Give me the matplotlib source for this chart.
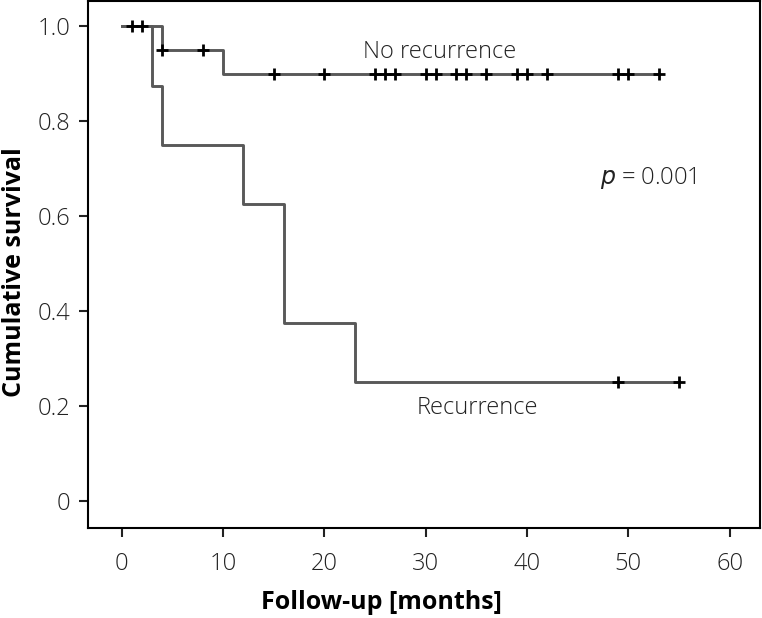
import matplotlib
matplotlib.use("Agg")
import matplotlib.pyplot as plt

plt.rcParams["font.family"] = ["Open Sans", "DejaVu Sans"]

# Kaplan-Meier steps
norec_t = [0, 4, 10, 53]
norec_s = [1.0, 0.95, 0.90, 0.90]
norec_cens_t = [1, 2, 4, 8, 15, 20, 25, 26, 27, 30, 31, 33, 34, 36, 39, 40, 42, 49, 50, 53]
norec_cens_s = [1.0, 1.0, 0.95, 0.95] + [0.90] * 16

rec_t = [0, 3, 4, 12, 16, 23, 55]
rec_s = [1.0, 0.875, 0.75, 0.625, 0.375, 0.25, 0.25]
rec_cens_t = [49, 55]
rec_cens_s = [0.25, 0.25]

xticks = [0, 10, 20, 30, 40, 50, 60]
yticks = [0, 0.2, 0.4, 0.6, 0.8, 1.0]
ytick_labels = ["0", "0.2", "0.4", "0.6", "0.8", "1.0"]

fig = plt.figure(figsize=(7.62, 6.18), dpi=100)
ax = fig.add_axes([0.1155, 0.1456, 0.882, 0.853])

line_col = "#595959"
txt_col = "#222222"
ax.step(rec_t, rec_s, where="post", color=line_col, lw=2.1)
ax.step(norec_t, norec_s, where="post", color=line_col, lw=2.1)
ax.plot(norec_cens_t, norec_cens_s, "+", color="black", ms=9, mew=2)
ax.plot(rec_cens_t, rec_cens_s, "+", color="black", ms=9, mew=2)

ax.text(23.8, 0.933, "No recurrence", ha="left", va="baseline", fontsize=17,
        color=txt_col, fontweight="light")
ax.text(29.1, 0.183, "Recurrence", ha="left", va="baseline", fontsize=17,
        color=txt_col, fontweight="light")
ax.text(47.2, 0.667, r"$\it{p}$ = 0.001", ha="left", va="baseline", fontsize=17,
        color=txt_col, fontweight="light")

ax.set_xlim(-3.32, 63.0)
ax.set_ylim(-0.057, 1.054)
ax.set_xticks(xticks)
ax.set_yticks(yticks)
ax.set_yticklabels(ytick_labels)
ax.tick_params(labelsize=17, length=6.5, width=1.5, colors=txt_col)
ax.tick_params(axis="x", pad=11)
ax.tick_params(axis="y", pad=6)
for lab in ax.get_xticklabels() + ax.get_yticklabels():
    lab.set_fontweight("light")
for s in ax.spines.values():
    s.set_linewidth(1.5)

ax.set_xlabel("Follow-up [months]", fontsize=18, fontweight="bold", va="center")
ax.set_ylabel("Cumulative survival", fontsize=18, fontweight="bold", va="center")
ax.xaxis.set_label_coords(0.436, -0.142)
ax.yaxis.set_label_coords(-0.110, 0.486)

fig.savefig("out.png", dpi=100)
